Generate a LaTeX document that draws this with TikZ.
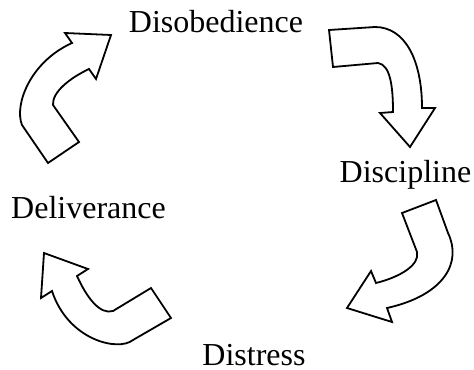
\documentclass[tikz,border=0pt]{standalone}
\usepackage{fontspec}
\setmainfont{Liberation Serif}
\tikzset{
  lbl/.style={anchor=base, inner sep=0pt, font=\fontsize{16}{19}\selectfont},
  blockarrow/.style={draw=black, fill=white, line width=0.9pt, miter limit=4}
}
\begin{document}
\begin{tikzpicture}[x=0.5pt, y=-0.5pt]
    \useasboundingbox (0,0) rectangle (474,369);
    \node [lbl] (disobedience) at (216,33) {Disobedience};
    \node [lbl] (discipline) at (405.5,182) {Discipline};
    \node [lbl] (distress) at (254,365) {Distress};
    \node [lbl] (deliverance) at (88.5,218) {Deliverance};
    % Deliverance -> Disobedience
    \draw [blockarrow] (72,43) -- (65,33) -- (111,35) -- (96,79) -- (89,69)
      .. controls (70,78) and (52,92) .. (53,105) -- (79,142) -- (48,163) -- (22,125)
      .. controls (14,105) and (30,62) .. (72,43) -- cycle;
    % Disobedience -> Discipline
    \draw [blockarrow] (329,30) -- (375,27) .. controls (405,27) and (422,60) .. (422,108)
      -- (435,108) -- (410,147) -- (380,113) -- (393,112)
      .. controls (393,85) and (390,65) .. (378,63) -- (333,67) -- cycle;
    % Discipline -> Distress
    \draw [blockarrow] (402,213) -- (436,200) -- (448,233)
      .. controls (462,262) and (445,295) .. (387,308) -- (392,322) -- (347,308)
      -- (371,271) -- (376,283) .. controls (400,277) and (420,265) .. (417,252) -- cycle;
    % Distress -> Deliverance
    \draw [blockarrow] (44,253) -- (88,269) -- (77,276)
      .. controls (87,298) and (100,315) .. (113,311) -- (151,288) -- (171,318) -- (133,340)
      .. controls (118,352) and (68,340) .. (52,291) -- (41,298) -- cycle;
\end{tikzpicture}
\end{document}
